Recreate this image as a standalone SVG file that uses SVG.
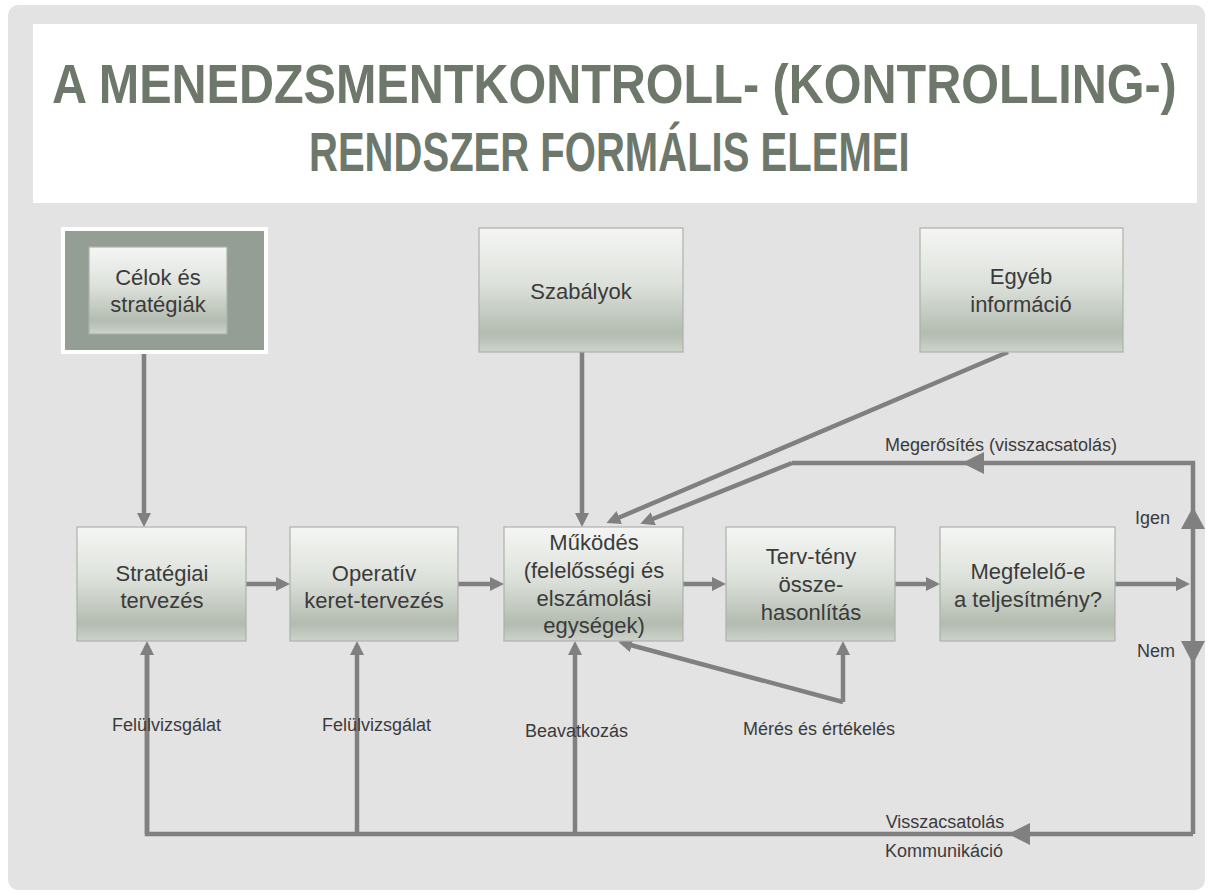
<svg xmlns="http://www.w3.org/2000/svg" width="1210" height="895" viewBox="0 0 1210 895">
  <defs>
    <linearGradient id="boxFill" x1="0" y1="0" x2="0" y2="1">
      <stop offset="0" stop-color="#f5f6f4"/>
      <stop offset="0.45" stop-color="#dde1db"/>
      <stop offset="0.85" stop-color="#b3bcb1"/>
      <stop offset="1" stop-color="#cdd3cb"/>
    </linearGradient>
    <marker id="arr" viewBox="0 0 14 14" refX="9" refY="7" markerWidth="14" markerHeight="14" markerUnits="userSpaceOnUse" orient="auto">
      <path d="M0,0 L14,7 L0,14 Z" fill="#808080"/>
    </marker>
    <style>
      .box { fill: url(#boxFill); stroke: #aab3a8; stroke-width: 1.2; }
      .lbl { font-family: "Liberation Sans", Arial, sans-serif; font-size: 22px; fill: #3b3b3b; text-anchor: middle; }
      .sm { font-family: "Liberation Sans", Arial, sans-serif; font-size: 18px; fill: #3b3b3b; }
      .title { font-family: "Liberation Sans", Arial, sans-serif; font-weight: bold; font-size: 55px; fill: #6d786b; }
      .ln { fill: none; stroke: #808080; stroke-width: 4.5; stroke-linejoin: miter; }
      .ar { marker-end: url(#arr); }
      .tri { fill: #808080; }
    </style>
  </defs>

  <!-- slide background -->
  <rect x="0" y="0" width="1210" height="895" fill="#ffffff"/>
  <rect x="8" y="5" width="1197" height="885" rx="10" fill="#e3e3e3"/>

  <!-- title band: condensed bold heading -->
  <g id="title">
    <rect x="33" y="24" width="1164" height="179" fill="#ffffff"/>
    <g transform="translate(52,103) scale(0.78,1)">
      <text class="title" x="0" y="0" textLength="1442" lengthAdjust="spacingAndGlyphs">A MENEDZSMENTKONTROLL- (KONTROLLING-)</text>
    </g>
    <g transform="translate(309,171) scale(0.78,1)">
      <text class="title" x="0" y="0" textLength="770" lengthAdjust="spacingAndGlyphs">RENDSZER FORMÁLIS ELEMEI</text>
    </g>
  </g>

  <!-- connectors -->
  <g id="connectors">
    <!-- inputs from the top row -->
    <line class="ln ar" x1="144" y1="354" x2="144" y2="522"/>
    <line class="ln ar" x1="582" y1="352" x2="582" y2="522"/>
    <line class="ln ar" x1="1008" y1="352" x2="611" y2="521"/>
    <!-- main flow -->
    <line class="ln ar" x1="246" y1="584" x2="285" y2="584"/>
    <line class="ln ar" x1="458" y1="584" x2="499" y2="584"/>
    <line class="ln ar" x1="683" y1="584" x2="721" y2="584"/>
    <line class="ln ar" x1="895" y1="584" x2="935" y2="584"/>
    <line class="ln ar" x1="1115" y1="584" x2="1185" y2="584"/>
    <!-- decision loop -->
    <polyline class="ln" points="1193,834 1193,463 792,463"/>
    <line class="ln ar" x1="792" y1="463" x2="645" y2="522"/>
    <polygon class="tri" points="962,463 984,452 984,474"/>
    <polygon class="tri" points="1193,507 1205,529 1181,529"/>
    <polygon class="tri" points="1193,664 1181,641 1205,641"/>
    <!-- feedback / communication -->
    <polyline class="ln" points="1193,834 147,834 147,650"/>
    <polygon class="tri" points="1008,834 1030,823 1030,845"/>
    <line class="ln ar" x1="147" y1="834" x2="147" y2="646"/>
    <line class="ln ar" x1="357" y1="834" x2="357" y2="646"/>
    <line class="ln ar" x1="575" y1="834" x2="575" y2="646"/>
    <!-- measurement and evaluation -->
    <line class="ln ar" x1="843" y1="702" x2="843" y2="646"/>
    <line class="ln ar" x1="843" y1="702" x2="623" y2="643"/>
  </g>

  <!-- nodes -->
  <g id="celok">
    <rect x="63" y="229" width="203" height="123" fill="#959e94" stroke="#ffffff" stroke-width="4"/>
    <rect class="box" x="89" y="247" width="138" height="87"/>
    <text class="lbl" x="158" y="285">Célok és</text>
    <text class="lbl" x="158" y="312">stratégiák</text>
  </g>
  <g id="szabalyok">
    <rect class="box" x="479" y="228" width="204" height="124"/>
    <text class="lbl" x="581" y="299">Szabályok</text>
  </g>
  <g id="egyeb">
    <rect class="box" x="920" y="228" width="203" height="124"/>
    <text class="lbl" x="1021" y="284">Egyéb</text>
    <text class="lbl" x="1021" y="312">információ</text>
  </g>
  <g id="strategiai">
    <rect class="box" x="77" y="527" width="169" height="114"/>
    <text class="lbl" x="162" y="581">Stratégiai</text>
    <text class="lbl" x="162" y="608">tervezés</text>
  </g>
  <g id="operativ">
    <rect class="box" x="290" y="527" width="168" height="114"/>
    <text class="lbl" x="374" y="581">Operatív</text>
    <text class="lbl" x="374" y="608">keret-tervezés</text>
  </g>
  <g id="mukodes">
    <rect class="box" x="504" y="527" width="179" height="114"/>
    <text class="lbl" x="594" y="550">Működés</text>
    <text class="lbl" x="594" y="578">(felelősségi és</text>
    <text class="lbl" x="594" y="606">elszámolási</text>
    <text class="lbl" x="594" y="633">egységek)</text>
  </g>
  <g id="tervteny">
    <rect class="box" x="726" y="527" width="169" height="114"/>
    <text class="lbl" x="811" y="564">Terv-tény</text>
    <text class="lbl" x="811" y="592">össze-</text>
    <text class="lbl" x="811" y="620">hasonlítás</text>
  </g>
  <g id="megfelelo">
    <rect class="box" x="940" y="527" width="175" height="114"/>
    <text class="lbl" x="1028" y="579">Megfelelő-e</text>
    <text class="lbl" x="1028" y="607">a teljesítmény?</text>
  </g>

  <!-- connector labels -->
  <g id="labels">
    <text class="sm" x="885" y="451">Megerősítés (visszacsatolás)</text>
    <text class="sm" x="1135" y="524">Igen</text>
    <text class="sm" x="1137" y="657">Nem</text>
    <text class="sm" x="112" y="731">Felülvizsgálat</text>
    <text class="sm" x="322" y="731">Felülvizsgálat</text>
    <text class="sm" x="525" y="737">Beavatkozás</text>
    <text class="sm" x="743" y="735">Mérés és értékelés</text>
    <text class="sm" x="945" y="828" text-anchor="middle">Visszacsatolás</text>
    <text class="sm" x="944" y="857" text-anchor="middle">Kommunikáció</text>
  </g>
</svg>
